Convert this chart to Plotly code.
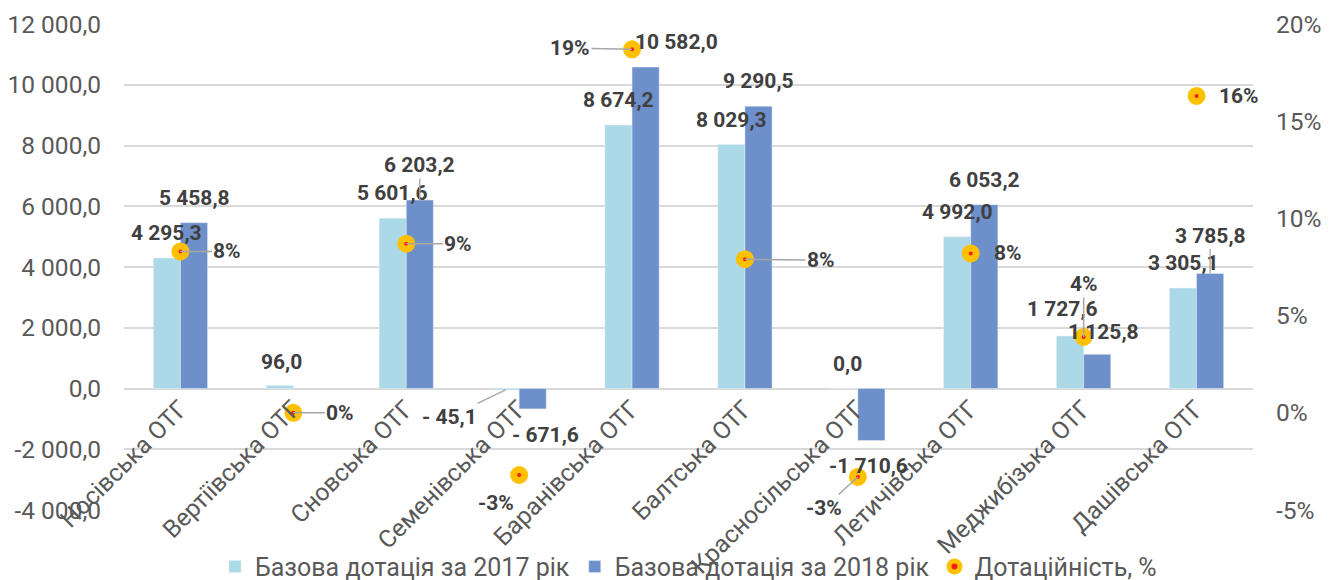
import plotly.graph_objects as go

# ---------------- data ----------------
categories = ["Носівська ОТГ", "Вертіївська ОТГ", "Сновська ОТГ", "Семенівська ОТГ",
              "Баранівська ОТГ", "Балтська ОТГ", "Красносільська ОТГ", "Летичівська ОТГ",
              "Меджибізька ОТГ", "Дашівська ОТГ"]
dot_2017 = [4295.3, 96.0, 5601.6, -45.1, 8674.2, 8029.3, 0.0, 4992.0, 1727.6, 3305.1]
dot_2018 = [5458.8, None, 6203.2, -671.6, 10582.0, 9290.5, -1710.6, 6053.2, 1125.8, 3785.8]
dotac_pct = [0.083, 0.0, 0.087, -0.032, 0.187, 0.079, -0.033, 0.082, 0.039, 0.163]

series_names = ["Базова дотація за 2017 рік", "Базова дотація за 2018 рік", "Дотаційність, %"]
y_tickvals = [-4000, -2000, 0, 2000, 4000, 6000, 8000, 10000, 12000]
y_ticktext = ["-4 000,0", "-2 000,0", "0,0", "2 000,0", "4 000,0", "6 000,0", "8 000,0", "10 000,0", "12 000,0"]
y2_tickvals = [-0.05, 0.0, 0.05, 0.10, 0.15, 0.20]
y2_ticktext = ["-5%", "0%", "5%", "10%", "15%", "20%"]


def fmt_num(v):
    s = f"{abs(v):,.1f}".replace(",", " ").replace(".", ",")
    if v < 0:
        return ("- " if abs(v) < 1000 else "-") + s
    return s


def fmt_pct(p):
    return f"{round(p * 100):.0f}%".replace("-0%", "0%")


# ---------------- styles ----------------
FONT = "Roboto"
C17 = "#ABD9E7"
C18 = "#6D8FCA"
GRID = "#D9D9D9"
TXT = "#595959"
LBL = "#404040"
BAR_OFF = 0.12  # half bar width in category units
TICK_SIZE = 24.5

fig = go.Figure()
fig.add_trace(go.Bar(x=list(range(len(categories))), y=dot_2017, name=series_names[0],
                     marker=dict(color=C17), yaxis="y"))
fig.add_trace(go.Bar(x=list(range(len(categories))), y=dot_2018, name=series_names[1],
                     marker=dict(color=C18), yaxis="y"))
fig.add_trace(go.Scatter(x=list(range(len(categories))), y=dotac_pct, name=series_names[2],
                         mode="markers", yaxis="y2",
                         marker=dict(size=11, color="#FF1A1A",
                                     line=dict(color="#FFC000", width=7))))

# label placement tweaks: (dx px, dy px up, leader line)
off17 = {1: (2, 24, False), 3: (-56, -27, True), 6: (3, 25, False), 8: (-8, 27, False)}
off18 = {2: (0, 35, True), 3: (13, -26, False), 4: (31, 25, False), 6: (-3, -26, False),
         8: (6, 22, False), 9: (0, 38, True)}
pct_off = {0: (47, 0, True), 1: (47, 0, True), 2: (52, 0, True), 3: (-23, 28, False),
           4: (-62, -1, True), 5: (76, 1, True), 6: (-34, 31, True), 7: (37, 0, False),
           8: (0, -53, True), 9: (42, 0, False)}

annots = []
for series, sign, offs in ((dot_2017, -1, off17), (dot_2018, 1, off18)):
    for i, v in enumerate(series):
        if v is None:
            continue
        default_dy = 25 if v >= 0 else -25
        dx, dy, line = offs.get(i, (0, default_dy, False))
        common = dict(x=i + sign * BAR_OFF, y=v, xref="x", yref="y", text="<b>" + fmt_num(v) + "</b>",
                      font=dict(family=FONT, size=21, color=LBL))
        if line:
            annots.append(dict(**common, showarrow=True, ax=dx, ay=-dy, arrowhead=0,
                               arrowwidth=1.3, arrowcolor="#A6A6A6", standoff=0))
        else:
            annots.append(dict(**common, showarrow=False, xshift=dx, yshift=dy))

for i, p in enumerate(dotac_pct):
    dx, dy, line = pct_off[i]
    common = dict(x=i, y=p, xref="x", yref="y2", text="<b>" + fmt_pct(p) + "</b>",
                  font=dict(family=FONT, size=21, color=LBL))
    if line:
        annots.append(dict(**common, showarrow=True, ax=dx, ay=dy, arrowhead=0,
                           arrowwidth=1.5, arrowcolor="#A6A6A6", standoff=0))
    else:
        annots.append(dict(**common, showarrow=False, xshift=dx, yshift=-dy))

# the page body adds an 8px offset, margins compensate for it
fig.update_layout(
    width=1333, height=580,
    margin=dict(l=116, r=88, t=16, b=78, autoexpand=False),
    paper_bgcolor="white", plot_bgcolor="white",
    font=dict(family=FONT, size=TICK_SIZE, color=TXT),
    barmode="group", bargap=0.52, bargroupgap=0,
    showlegend=True,
    legend=dict(orientation="h", x=0.5, xanchor="center", y=-0.117, yanchor="middle",
                font=dict(family=FONT, size=25, color=TXT),
                bgcolor="rgba(0,0,0,0)"),
    xaxis=dict(type="linear", range=[-0.5, len(categories) - 0.5],
               tickvals=list(range(len(categories))), ticktext=categories,
               tickangle=-45, anchor="free", position=0.25, showgrid=False,
               showline=False, zeroline=False, ticks="", automargin=False,
               tickfont=dict(family=FONT, size=TICK_SIZE, color=TXT)),
    yaxis=dict(range=[-4000, 12000], tickvals=y_tickvals, ticktext=y_ticktext,
               showgrid=True, gridcolor=GRID, gridwidth=1.5,
               zeroline=True, zerolinecolor=GRID, zerolinewidth=1.5,
               ticks="", ticklabelstandoff=22, automargin=False,
               tickfont=dict(family=FONT, size=TICK_SIZE, color=TXT)),
    yaxis2=dict(range=[-0.05, 0.20], tickvals=y2_tickvals, ticktext=y2_ticktext,
                overlaying="y", side="right", showgrid=False, zeroline=False,
                ticks="", ticklabelstandoff=22, automargin=False,
                tickfont=dict(family=FONT, size=TICK_SIZE, color=TXT)),
    annotations=annots,
)

fig.write_html("out.html")
